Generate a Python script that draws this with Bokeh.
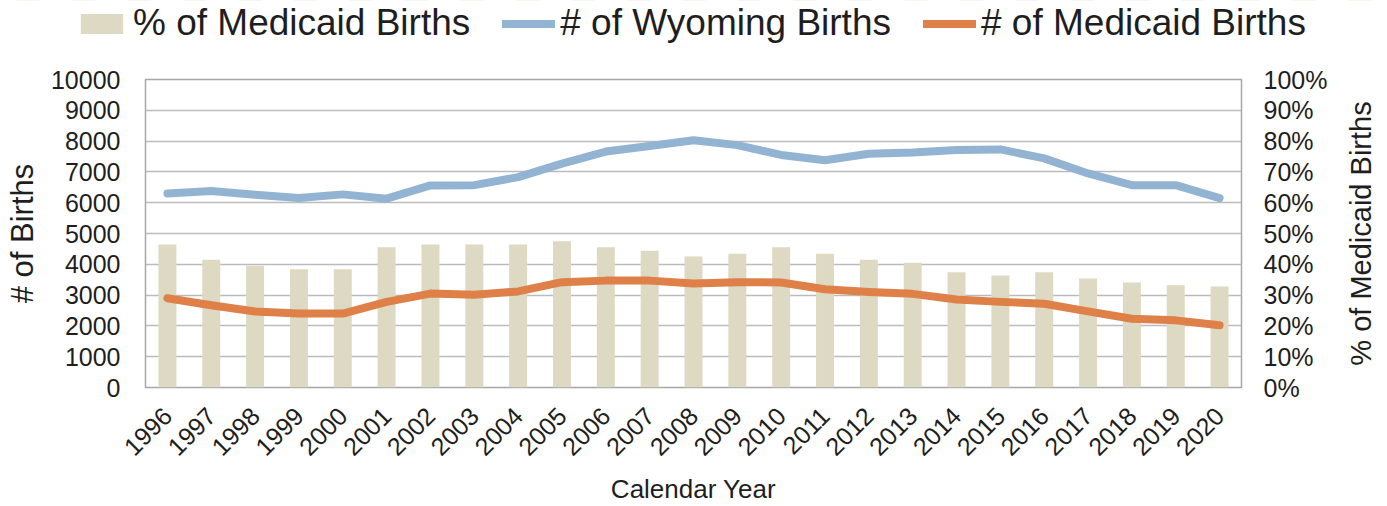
import math
from bokeh.plotting import figure
from bokeh.layouts import column, row
from bokeh.models import (ColumnDataSource, Range1d, LinearAxis, Legend, LegendItem,
                          SingleIntervalTicker, FixedTicker, PrintfTickFormatter, FactorRange)
from bokeh.embed import file_html
from bokeh.resources import INLINE

years = [str(y) for y in range(1996, 2021)]
pct_medicaid = [46.4, 41.5, 39.5, 38.4, 38.4, 45.5, 46.4, 46.4, 46.4, 47.5, 45.5, 44.4, 42.5,
                43.4, 45.5, 43.4, 41.5, 40.5, 37.4, 36.4, 37.4, 35.4, 34.1, 33.2, 32.8]
wyoming_births = [6300, 6380, 6260, 6150, 6270, 6130, 6560, 6570, 6830, 7270, 7660, 7840, 8030,
                  7870, 7550, 7380, 7590, 7630, 7710, 7730, 7440, 6950, 6570, 6570, 6150]
medicaid_births = [2900, 2670, 2470, 2400, 2400, 2780, 3050, 3010, 3120, 3420, 3470, 3470, 3380,
                   3420, 3410, 3190, 3100, 3040, 2860, 2780, 2720, 2470, 2230, 2180, 2020]
series_names = ["% of Medicaid Births", "# of Wyoming Births", "# of Medicaid Births"]
pct_ticks = list(range(0, 101, 10))

FONT = "Liberation Sans"
TXT = "#1e1e1e"
C_BAR, C_WY, C_MD = "#DDD9C3", "#93B3D3", "#DE8047"
W = 1387
LEG_H = 44
RT_W = 46
H = 506 - LEG_H
B_TOP, B_BOT = 79 - LEG_H, 119

src = ColumnDataSource(dict(year=years, pct=pct_medicaid, wy=wyoming_births, md=medicaid_births))

# ---------------- main chart ----------------
p = figure(width=W - RT_W, height=H, x_range=FactorRange(factors=years),
           y_range=Range1d(0, 10000), output_backend="svg", toolbar_location=None,
           min_border_left=145, min_border_right=W - RT_W - 1241, min_border_top=B_TOP,
           min_border_bottom=B_BOT)
p.extra_y_ranges = {"pct": Range1d(0, 100)}

p.vbar(x="year", top="pct", width=0.41, source=src, y_range_name="pct",
       fill_color=C_BAR, line_color=None)
p.line(x="year", y="wy", source=src, line_width=8, line_color=C_WY,
       line_cap="round", line_join="round")
p.line(x="year", y="md", source=src, line_width=8, line_color=C_MD,
       line_cap="round", line_join="round")

p.outline_line_color = "#A6A6A6"
p.outline_line_width = 1.5
p.xgrid.grid_line_color = None
p.ygrid.grid_line_color = "#BBBBBB"
p.ygrid.grid_line_width = 1.5
p.ygrid.ticker = SingleIntervalTicker(interval=1000)

ya = p.yaxis[0]
ya.ticker = SingleIntervalTicker(interval=1000)
ya.axis_label = "# of Births"
ya.axis_label_text_font_size = "31px"
ya.axis_label_standoff = 8

ra = LinearAxis(y_range_name="pct", ticker=FixedTicker(ticks=pct_ticks),
                formatter=PrintfTickFormatter(format="%d%%"))
p.add_layout(ra, "right")

xa = p.xaxis[0]
xa.axis_label = "Calendar Year"
xa.axis_label_text_font_size = "26px"
xa.major_label_orientation = math.pi / 4
xa.major_label_text_font_size = "25px"
xa.axis_label_standoff = 7

for ax in [ya, ra, xa]:
    ax.axis_line_color = None
    ax.major_tick_line_color = None
    ax.minor_tick_line_color = None
    ax.major_label_text_font = FONT
    ax.axis_label_text_font = FONT
    ax.major_label_text_color = TXT
    ax.axis_label_text_color = TXT
    ax.axis_label_text_font_style = "normal"
for ax in [ya, ra]:
    ax.major_label_text_font_size = "25px"
ya.major_label_standoff = 19
ra.major_label_standoff = 16
xa.major_label_standoff = 18

# ---------------- right title strip (reads bottom-to-top like the reference) ----------------
rt = figure(width=RT_W, height=H, x_range=Range1d(0, 1), y_range=Range1d(0, 100),
            output_backend="svg", toolbar_location=None, x_axis_type=None,
            y_axis_location="left", min_border_left=0, min_border_right=0,
            min_border_top=B_TOP, min_border_bottom=B_BOT)
try:
    rt.frame_align = False
except Exception:
    pass
rt.outline_line_color = None
rt.grid.grid_line_color = None
rt.background_fill_color = None
rta = rt.yaxis[0]
rta.ticker = FixedTicker(ticks=[])
rta.axis_line_color = None
rta.major_tick_line_color = None
rta.minor_tick_line_color = None
rta.major_label_standoff = 0
rta.axis_label = "% of Medicaid Births"
rta.axis_label_text_font = FONT
rta.axis_label_text_font_size = "29px"
rta.axis_label_text_font_style = "normal"
rta.axis_label_text_color = TXT
rta.axis_label_standoff = 0

# ---------------- legend strip ----------------
# same data, drawn in a strip whose y range hides them; only the legend shows
lg = figure(width=W, height=LEG_H, x_range=FactorRange(factors=years), y_range=Range1d(-2, -1),
            output_backend="svg", toolbar_location=None, x_axis_type=None, y_axis_type=None,
            min_border=0)
try:
    lg.frame_align = False
except Exception:
    pass
lg.outline_line_color = None
lg.grid.grid_line_color = None
lg.background_fill_color = None
r_bar = lg.vbar(x="year", top="pct", width=0.41, source=src, fill_color=C_BAR, line_color=None)
r_wy = lg.line(x="year", y="wy", source=src, line_width=8, line_color=C_WY, line_cap="round")
r_md = lg.line(x="year", y="md", source=src, line_width=8, line_color=C_MD, line_cap="round")
legend = Legend(items=[LegendItem(label=series_names[0], renderers=[r_bar]),
                       LegendItem(label=series_names[1], renderers=[r_wy]),
                       LegendItem(label=series_names[2], renderers=[r_md])],
                orientation="horizontal", location=(75, 0),
                glyph_width=53, glyph_height=25, label_standoff=5, spacing=32,
                padding=0, margin=0, border_line_color=None, background_fill_alpha=0,
                label_text_font=FONT, label_text_font_size="37px", label_text_color=TXT)
lg.add_layout(legend, "center")

layout = column(lg, row(p, rt, spacing=0), spacing=0)
open("out.html", "w").write(file_html(layout, INLINE))
